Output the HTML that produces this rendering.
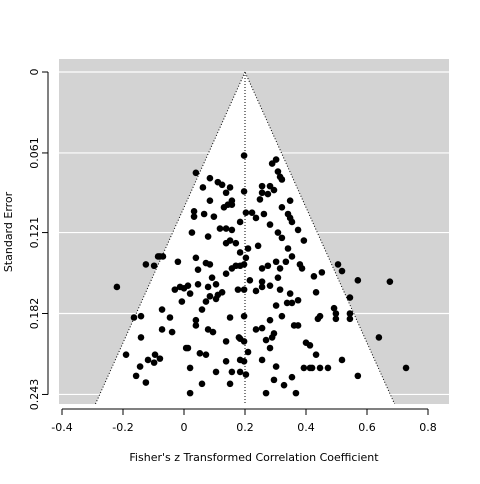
<!DOCTYPE html>
<html><head><meta charset="utf-8">
<style>
body{margin:0;background:#fff;font-family:"DejaVu Sans","Liberation Sans",sans-serif;}
svg text{font-family:"DejaVu Sans","Liberation Sans",sans-serif;font-size:11px;fill:#000;}
</style></head>
<body>
<svg id="chart" width="480" height="480" viewBox="0 0 480 480" xmlns="http://www.w3.org/2000/svg"></svg>
<script>
const xTicks=[-0.4,-0.2,0,0.2,0.4,0.6,0.8];
const xTickLabels=["-0.4","-0.2","0","0.2","0.4","0.6","0.8"];
const yTicks=[0,0.061,0.121,0.182,0.243];
const yTickLabels=["0","0.061","0.121","0.182","0.243"];
const estimate=0.2;
const seMax=0.251;
const ptX=[0.197,0.289,0.302,0.308,0.315,0.321,0.039,0.085,0.111,0.125,0.062,0.151,0.256,0.282,0.295,0.275,0.197,0.249,0.085,0.138,0.157,0.144,0.131,0.348,0.321,0.341,0.203,0.223,0.033,0.033,0.098,0.157,0.256,0.262,0.026,0.066,0.079,0.118,0.138,0.157,0.184,0.236,0.348,0.354,0.282,0.308,0.374,0.393,0.321,0.341,0.151,0.170,0.210,0.243,0.138,0.184,0.203,-0.079,-0.020,0.039,0.072,0.046,0.085,0.092,0.138,0.157,0.170,0.184,0.197,0.256,0.275,0.302,0.315,0.334,0.354,0.380,0.256,0.282,0.308,0.216,0.236,0.256,0.315,0.348,0.387,0.426,0.452,0.505,0.518,-0.220,-0.125,-0.085,-0.069,-0.098,-0.030,-0.013,0,0.013,0.020,0.046,0.079,0.105,0.125,0.177,0.197,0.059,0.072,0.085,0.105,0.111,-0.007,-0.164,-0.141,-0.072,-0.046,-0.072,-0.039,0.079,0.095,0.039,0.039,0.151,0.302,0.338,0.354,0.374,0.197,0.236,0.256,0.282,0.295,0.321,0.361,0.374,0.289,0.433,0.492,0.439,0.446,0.498,0.498,0.544,0.544,0.570,0.675,-0.190,-0.141,-0.118,-0.144,-0.095,-0.079,-0.098,-0.157,-0.125,0.007,0.020,0.052,0.072,0.138,0.180,0.184,0.184,0.197,0.138,0.210,0.269,0.282,0.302,0.256,0.400,0.413,0.433,0.544,0.639,0.518,0.393,0.420,0.354,0.295,0.328,0.203,0.269,0.367,0.570,0.728,0.472,0.446,0.413,0.020,0.059,0.013,0.105,0.157,0.184,0.197,0.151];
const ptSE=[0.063,0.069,0.066,0.075,0.079,0.081,0.076,0.080,0.083,0.085,0.087,0.087,0.086,0.086,0.089,0.092,0.090,0.096,0.097,0.091,0.097,0.100,0.102,0.097,0.102,0.107,0.106,0.106,0.105,0.109,0.109,0.100,0.091,0.107,0.121,0.107,0.124,0.118,0.118,0.119,0.113,0.110,0.110,0.113,0.115,0.121,0.119,0.127,0.125,0.133,0.127,0.129,0.133,0.131,0.129,0.136,0.140,0.139,0.143,0.140,0.144,0.149,0.145,0.155,0.152,0.148,0.146,0.146,0.145,0.148,0.146,0.143,0.148,0.143,0.139,0.145,0.158,0.161,0.155,0.157,0.165,0.162,0.164,0.167,0.148,0.154,0.151,0.145,0.150,0.162,0.145,0.139,0.139,0.146,0.164,0.162,0.163,0.161,0.167,0.160,0.162,0.160,0.166,0.164,0.164,0.179,0.173,0.169,0.171,0.168,0.173,0.185,0.184,0.179,0.185,0.194,0.196,0.194,0.196,0.191,0.187,0.185,0.176,0.174,0.174,0.172,0.184,0.194,0.193,0.187,0.197,0.184,0.191,0.191,0.200,0.166,0.178,0.186,0.184,0.182,0.186,0.182,0.186,0.157,0.158,0.213,0.200,0.217,0.222,0.213,0.216,0.219,0.229,0.234,0.208,0.223,0.212,0.213,0.203,0.200,0.201,0.217,0.203,0.218,0.211,0.202,0.208,0.222,0.217,0.204,0.206,0.213,0.170,0.200,0.217,0.223,0.223,0.230,0.232,0.236,0.228,0.242,0.242,0.229,0.223,0.223,0.223,0.223,0.242,0.235,0.208,0.226,0.226,0.226,0.218,0.235];

const svg=document.getElementById('chart');
const NS='http://www.w3.org/2000/svg';
const X=v=>184+305*v;
const Y=s=>72+1327*s;
const L=59,R=449,T=59,B=405;
function mk(tag,attrs,parent){const e=document.createElementNS(NS,tag);for(const k in attrs)e.setAttribute(k,attrs[k]);(parent||svg).appendChild(e);return e;}

let bg=mk('rect',{x:L,y:T,width:R-L,height:B-T,fill:'#d3d3d3'});


yTicks.forEach((t,i)=>{let g=mk('line',{x1:L,x2:R,y1:Y(t),y2:Y(t),stroke:'#fff','stroke-width':1.2});

});
const lo=estimate-1.96*seMax, hi=estimate+1.96*seMax;
let fun=mk('polygon',{points:`${X(estimate)},${Y(0)} ${X(lo)},${Y(seMax)} ${X(hi)},${Y(seMax)}`,fill:'#fff',stroke:'#000','stroke-dasharray':'1,2','stroke-width':1});


let bl=mk('line',{x1:L,x2:R,y1:B,y2:B,stroke:'#fff','stroke-width':2});


let cl=mk('line',{x1:X(estimate),x2:X(estimate),y1:Y(0),y2:B,stroke:'#000','stroke-dasharray':'1,2','stroke-width':1});


ptX.forEach((v,i)=>{let c=mk('circle',{cx:X(v),cy:Y(ptSE[i]),r:3.3,fill:'#000'});

});

// y axis
let ya=mk('line',{x1:48,x2:48,y1:Y(0),y2:Y(0.243),stroke:'#000'});


yTicks.forEach((t,i)=>{mk('line',{x1:42,x2:48,y1:Y(t),y2:Y(t),stroke:'#000'});
let tx=mk('text',{x:38,y:Y(t),'text-anchor':'middle',transform:`rotate(-90 38 ${Y(t)})`});
tx.textContent=yTickLabels[i];

});
let yt=mk('text',{x:12,y:232,'text-anchor':'middle',transform:'rotate(-90 12 232)'});
yt.textContent='Standard Error';


// x axis
let xa=mk('line',{x1:X(-0.4),x2:X(0.8),y1:409,y2:409,stroke:'#000'});


xTicks.forEach((t,i)=>{mk('line',{x1:X(t),x2:X(t),y1:409,y2:415,stroke:'#000'});
let tx=mk('text',{x:X(t),y:431,'text-anchor':'middle'});
tx.textContent=xTickLabels[i];

});
let xt=mk('text',{x:254,y:461,'text-anchor':'middle'});
xt.textContent="Fisher's z Transformed Correlation Coefficient";


</script>
</body></html>
